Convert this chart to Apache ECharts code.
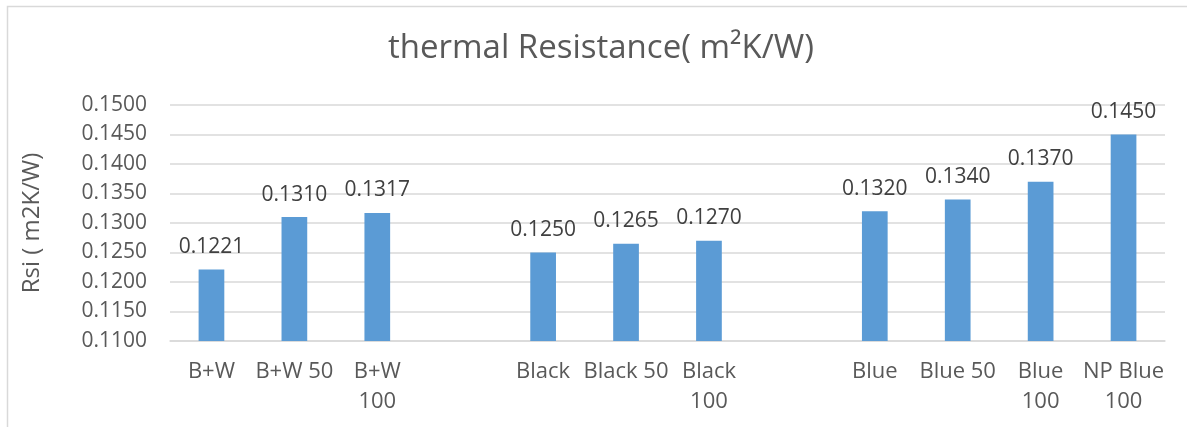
<!DOCTYPE html>
<html>
<head>
<meta charset="utf-8">
<script src="https://cdn.jsdelivr.net/npm/echarts@6/dist/echarts.min.js"></script>
<style>
  html, body { margin: 0; padding: 0; background: #ffffff; }
  #chart { width: 1187px; height: 427px; }
</style>
</head>
<body>
<div id="chart"></div>
<script>
// Sample groups (blank slots separate the three families)
const categories = ['B+W', 'B+W 50', 'B+W\n100', '', 'Black', 'Black 50', 'Black\n100', '', 'Blue', 'Blue 50', 'Blue\n100', 'NP Blue\n100'];
// Inside surface resistance Rsi, m2K/W
const rsiValues = [0.1221, 0.1310, 0.1317, null, 0.1250, 0.1265, 0.1270, null, 0.1320, 0.1340, 0.1370, 0.1450];
const yTicks = { min: 0.11, max: 0.15, step: 0.005 };

const FONT = '"Open Sans", "Liberation Sans", sans-serif';
const chart = echarts.init(document.getElementById('chart'));

chart.setOption({
  backgroundColor: '#ffffff',
  animation: false,
  graphic: [{
    type: 'rect',
    shape: { x: 7.5, y: 6.5, width: 1200, height: 450 },
    style: { fill: 'none', stroke: '#d9d9d9', lineWidth: 1.5 },
    silent: true,
    z: -1
  }],
  title: {
    text: 'thermal Resistance( m\u00B2K/W)',
    left: 383,
    top: 27,
    textStyle: { fontFamily: FONT, fontSize: 33, fontWeight: 'normal', color: '#595959' }
  },
  grid: { left: 170, right: 22, top: 105, bottom: 86, containLabel: false },
  xAxis: {
    type: 'category',
    data: categories,
    axisLine: { lineStyle: { color: '#d9d9d9', width: 1.5 } },
    axisTick: { show: false },
    axisLabel: {
      interval: 0,
      margin: 16,
      fontFamily: FONT,
      fontSize: 22,
      lineHeight: 30,
      color: '#595959'
    }
  },
  yAxis: {
    type: 'value',
    min: yTicks.min,
    max: yTicks.max,
    interval: yTicks.step,
    name: 'Rsi ( m2K/W)',
    nameLocation: 'middle',
    nameGap: 126,
    nameTextStyle: { fontFamily: FONT, fontSize: 24, color: '#595959' },
    axisLine: { show: false },
    axisTick: { show: false },
    splitLine: { lineStyle: { color: '#d9d9d9', width: 1.5 } },
    axisLabel: {
      margin: 23,
      fontFamily: FONT,
      fontSize: 21,
      color: '#595959',
      formatter: v => v.toFixed(4)
    }
  },
  series: [{
    type: 'bar',
    data: rsiValues,
    barWidth: '31%',
    itemStyle: { color: '#5b9bd5' },
    label: {
      show: true,
      position: 'top',
      distance: 12,
      fontFamily: FONT,
      fontSize: 21,
      color: '#404040',
      formatter: p => p.value.toFixed(4)
    }
  }]
});
</script>
</body>
</html>
